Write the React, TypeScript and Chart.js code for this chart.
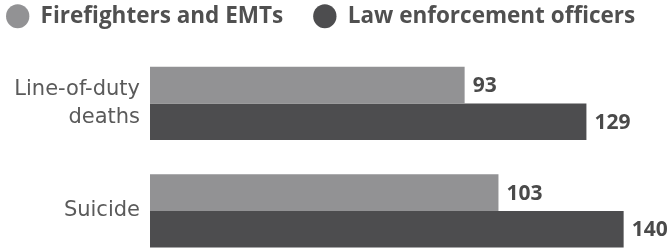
import React, { useEffect, useRef } from "react";
import { Chart, registerables } from "chart.js";

Chart.register(...registerables);

const categories: (string | string[])[] = [["Line-of-duty", "deaths"], "Suicide"];
const seriesNames = ["Firefighters and EMTs", "Law enforcement officers"];
const firefighters = [93, 103];
const lawEnforcement = [129, 140];
const colors = ["#929294", "#4d4d4f"];

const valueLabels = {
  id: "valueLabels",
  afterDatasetsDraw(chart: any) {
    const ctx = chart.ctx;
    ctx.save();
    ctx.font = 'bold 21px "Open Sans"';
    ctx.fillStyle = "#4a4a4a";
    ctx.textAlign = "left";
    ctx.textBaseline = "middle";
    chart.data.datasets.forEach((ds: any, di: number) => {
      const meta = chart.getDatasetMeta(di);
      meta.data.forEach((bar: any, i: number) => {
        ctx.fillText(String(ds.data[i]), bar.x + 8, bar.y + 1);
      });
    });
    ctx.restore();
  },
};

const legendGap = {
  id: "legendGap",
  beforeInit(chart: any) {
    const legend = chart.legend;
    if (!legend) return;
    const fit = legend.fit;
    legend.fit = function () {
      fit.call(this);
      this.height += 12.1;
    };
  },
};

export default function App() {
  const ref = useRef<HTMLCanvasElement>(null);
  useEffect(() => {
    if (!ref.current) return;
    const chart = new Chart(ref.current, {
      type: "bar",
      data: {
        labels: categories,
        datasets: [
          { label: seriesNames[0], data: firefighters, backgroundColor: colors[0], borderWidth: 0 },
          { label: seriesNames[1], data: lawEnforcement, backgroundColor: colors[1], borderWidth: 0 },
        ],
      },
      options: {
        indexAxis: "y",
        animation: false,
        responsive: true,
        maintainAspectRatio: false,
        layout: { padding: { left: -23.95, top: -24.95, right: 28.7, bottom: 0 } },
        datasets: { bar: { categoryPercentage: 0.68, barPercentage: 1 } },
        scales: {
          x: { display: false, min: 0, max: 160 },
          y: {
            grid: { display: false, drawTicks: false },
            border: { display: false },
            ticks: {
              padding: 10,
              color: "#5a5a5a",
              font: { family: '"DejaVu Sans"', size: 21, lineHeight: 1.35 },
            },
            afterFit(scale: any) {
              scale.width = 173.95;
            },
          },
        },
        plugins: {
          legend: {
            position: "top",
            align: "start",
            labels: {
              usePointStyle: true,
              pointStyle: "circle",
              boxHeight: 17,
              pointStyleWidth: 23.3,
              padding: 30,
              color: "#505050",
              font: { family: '"Open Sans"', size: 22.5, weight: "bold" },
            },
          },
          tooltip: { enabled: false },
        },
      },
      plugins: [legendGap, valueLabels],
    });
    return () => chart.destroy();
  }, []);
  return (
    <div style={{ position: "fixed", left: 0, top: 0, width: 671, height: 248, overflow: "hidden", background: "#fff" }}>
      <div style={{ position: "relative", width: 720, height: 303 }}>
        <canvas ref={ref} />
      </div>
    </div>
  );
}
